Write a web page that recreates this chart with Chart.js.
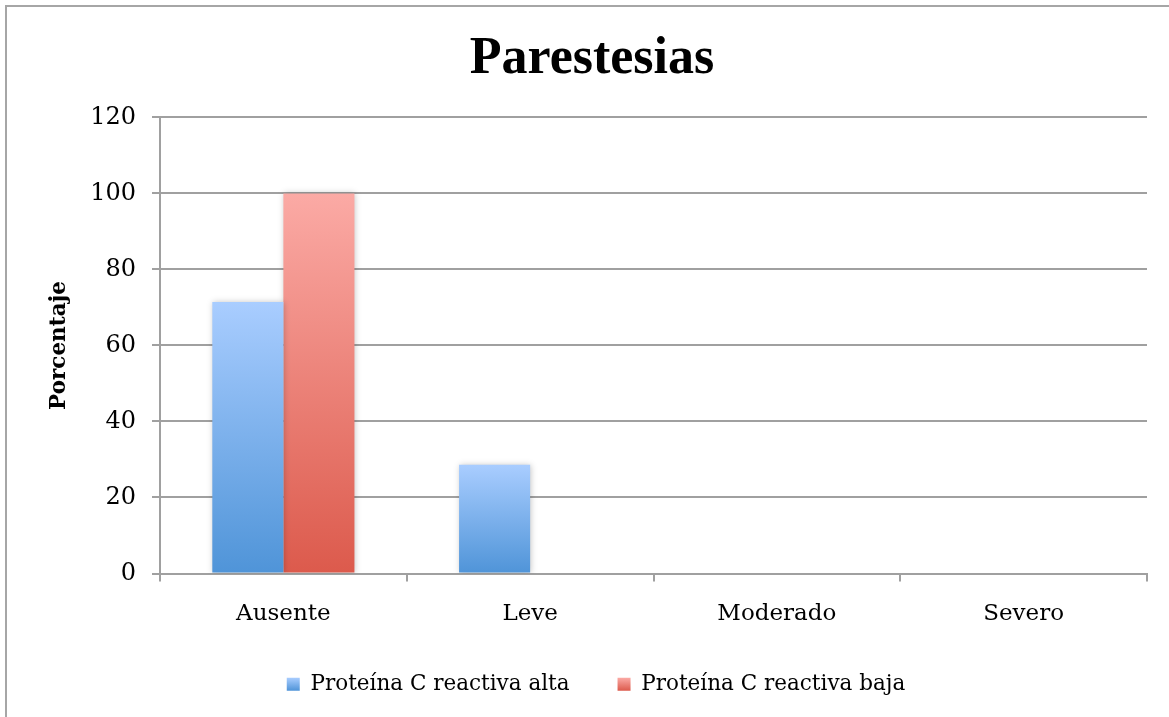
<meta charset="UTF-8">
<title>Parestesias</title>
<script src="https://cdn.jsdelivr.net/npm/chart.js"></script>
<style>
  body { margin: 0; background: #fff; }
  #wrap { position: relative; width: 1169px; height: 717px; }
</style>
<div id="wrap"><canvas id="chart" width="1169" height="717"></canvas></div>
<script>
var categories = ['Ausente', 'Leve', 'Moderado', 'Severo'];
var alta = [71.4, 28.6, 0, 0];
var baja = [100, 0, 0, 0];
var yTicks = [0, 20, 40, 60, 80, 100, 120];

var blueTop = '#a9cdff', blueBottom = '#4f94d8';
var redTop = '#fbaaa5', redBottom = '#dc5a4c';
var swatches = [[blueTop, blueBottom], [redTop, redBottom]];
var legendShift = 4;

function barFill(top, bottom, flat) {
    return function(ctx) {
        var chart = ctx.chart;
        if (!chart.chartArea || ctx.raw === undefined) return flat;
        var y = chart.scales.y;
        var y0 = y.getPixelForValue(ctx.raw);
        var y1 = y.getPixelForValue(0);
        if (y1 - y0 < 1) return flat;
        var g = chart.ctx.createLinearGradient(0, y0, 0, y1);
        g.addColorStop(0, top);
        g.addColorStop(1, bottom);
        return g;
    };
}

// outer frame, soft bar shadow, gradient legend swatches
var extras = {
    id: 'extras',
    afterLayout: function(chart) {
        var lg = chart.legend;
        if (lg) { lg.left += legendShift; lg.right += legendShift; }
    },
    beforeDraw: function(chart) {
        var c = chart.ctx;
        c.save();
        c.strokeStyle = '#a6a6a6';
        c.lineWidth = 2;
        c.strokeRect(6, 6, 1300, 900);
        c.restore();
        var lg = chart.legend;
        if (lg && lg.legendItems && lg.legendHitBoxes) {
            lg.legendItems.forEach(function(item, i) {
                var hb = lg.legendHitBoxes[i];
                if (!hb || !swatches[i]) return;
                var top = hb.top + (hb.height - 13) / 2;
                var g = c.createLinearGradient(0, top, 0, top + 13);
                g.addColorStop(0, swatches[i][0]);
                g.addColorStop(1, swatches[i][1]);
                item.fillStyle = g;
            });
        }
    },
    beforeDatasetsDraw: function(chart) {
        var c = chart.ctx;
        c.save();
        c.shadowColor = 'rgba(0,0,0,0.22)';
        c.shadowBlur = 6;
        c.shadowOffsetX = 1;
        c.shadowOffsetY = 0;
    },
    afterDatasetsDraw: function(chart) {
        chart.ctx.restore();
    }
};

var gridColor = '#a0a0a0';

new Chart(document.getElementById('chart'), {
    type: 'bar',
    data: {
        labels: categories,
        datasets: [{
            label: 'Proteína C reactiva alta',
            data: alta,
            backgroundColor: barFill(blueTop, blueBottom, '#7fb0ee'),
            borderWidth: 0
        }, {
            label: 'Proteína C reactiva baja',
            data: baja,
            backgroundColor: barFill(redTop, redBottom, '#ee8a82'),
            borderWidth: 0
        }]
    },
    plugins: [extras],
    options: {
        responsive: false,
        animation: false,
        devicePixelRatio: 1,
        layout: { padding: { left: 37, right: 22, top: 0, bottom: 12 } },
        datasets: { bar: { categoryPercentage: 0.576, barPercentage: 1 } },
        scales: {
            x: {
                grid: { offset: true, drawOnChartArea: false, tickLength: 8, color: gridColor, lineWidth: 2 },
                border: { color: gridColor, width: 2 },
                ticks: { color: '#000', padding: 19, font: { family: 'DejaVu Serif', size: 23 } },
                afterFit: function(s) { s.height = 52; }
            },
            y: {
                min: 0, max: 120,
                afterBuildTicks: function(s) { s.ticks = yTicks.map(function(v) { return { value: v }; }); },
                grid: { tickLength: 8, color: gridColor, lineWidth: 2 },
                border: { color: gridColor, width: 2 },
                ticks: { color: '#000', padding: 16, font: { family: 'DejaVu Serif', size: 24 } },
                title: {
                    display: true,
                    text: 'Porcentaje',
                    color: '#000',
                    padding: { top: 10, bottom: 0 },
                    font: { family: 'DejaVu Serif', size: 21.5, weight: 'bold' }
                },
                afterFit: function(s) { s.width = 123; }
            }
        },
        plugins: {
            title: {
                display: true,
                text: 'Parestesias',
                color: '#000',
                padding: { top: 28, bottom: 27 },
                font: { family: 'Liberation Serif', size: 52, weight: 'bold' }
            },
            legend: {
                position: 'bottom',
                labels: {
                    color: '#000',
                    boxWidth: 13,
                    boxHeight: 13,
                    padding: 48,
                    font: { family: 'DejaVu Serif', size: 21.5 }
                }
            },
            tooltip: { enabled: false }
        }
    }
});
</script>
